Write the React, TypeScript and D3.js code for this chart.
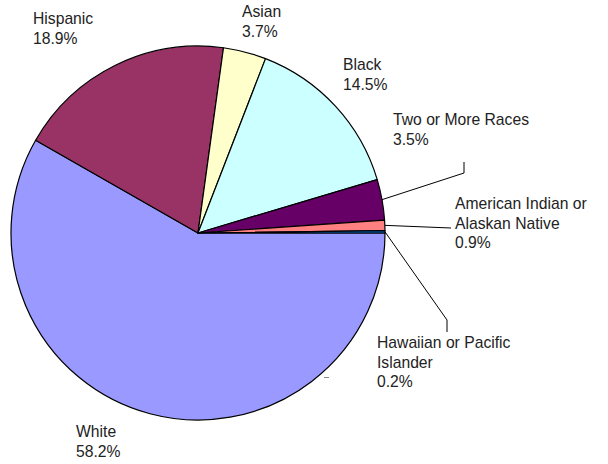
import React from "react";
import * as d3 from "d3";

const categories = [
  "White",
  "Hispanic",
  "Asian",
  "Black",
  "Two or More Races",
  "American Indian or Alaskan Native",
  "Hawaiian or Pacific Islander",
];
const values = [58.2, 18.9, 3.7, 14.5, 3.5, 0.9, 0.2];
const labelLines = [
  ["White", "58.2%"],
  ["Hispanic", "18.9%"],
  ["Asian", "3.7%"],
  ["Black", "14.5%"],
  ["Two or More Races", "3.5%"],
  ["American Indian or", "Alaskan Native", "0.9%"],
  ["Hawaiian or Pacific", "Islander", "0.2%"],
];
const colors = ["#9999FF", "#993366", "#FFFFCC", "#CCFFFF", "#660066", "#FF8080", "#0066CC"];

// layout: label anchor (x, first baseline) and leader-line elbow points
const labelPos: [number, number][] = [
  [76, 437],
  [33, 24],
  [242, 17],
  [343, 70],
  [393, 125],
  [455, 209],
  [377, 348],
];
const leaders: ([number, number][] | null)[] = [
  null,
  null,
  null,
  null,
  [[464, 173], [464, 162]],
  [[451, 228]],
  [[447, 320], [447, 332]],
];

const W = 608;
const H = 464;
const cx = 198;
const cy = 233;
const R = 187;
const lineH = 19.5;

export default function App() {
  const pie = d3
    .pie<number>()
    .sort(null)
    .value((d) => d)
    .startAngle(Math.PI / 2)
    .endAngle(Math.PI / 2 + 2 * Math.PI);
  const arcs = pie(values);
  const arc = d3.arc<d3.PieArcDatum<number>>().innerRadius(0).outerRadius(R);

  return (
    <svg
      width={W}
      height={H}
      style={{ position: "absolute", left: 0, top: 0, background: "#fff" }}
      fontFamily="'Liberation Sans', Arial, sans-serif"
    >
      <g transform={`translate(${cx},${cy})`}>
        {arcs.map((a, i) => (
          <path key={categories[i]} d={arc(a) || ""} fill={colors[i]} stroke="#000" strokeWidth={1.2} strokeLinejoin="round" />
        ))}
      </g>
      {arcs.map((a, i) => {
        const pts = leaders[i];
        if (!pts) return null;
        const mid = (a.startAngle + a.endAngle) / 2;
        const sx = cx + R * Math.sin(mid);
        const sy = cy - R * Math.cos(mid);
        const all: [number, number][] = [[sx, sy], ...pts];
        return (
          <path
            key={"l" + i}
            d={d3.line()(all) || ""}
            fill="none"
            stroke="#000"
            strokeWidth={1}
          />
        );
      })}
      <line x1={324} y1={377.5} x2={329} y2={377.5} stroke="#888" strokeWidth={1} />
      {labelLines.map((lines, i) => (
        <text
          key={"t" + i}
          x={labelPos[i][0]}
          y={labelPos[i][1]}
          fontSize={15.7}
          fill="#222"
        >
          {lines.map((ln, j) => (
            <tspan key={j} x={labelPos[i][0]} y={labelPos[i][1] + j * lineH}>
              {ln}
            </tspan>
          ))}
        </text>
      ))}
    </svg>
  );
}
